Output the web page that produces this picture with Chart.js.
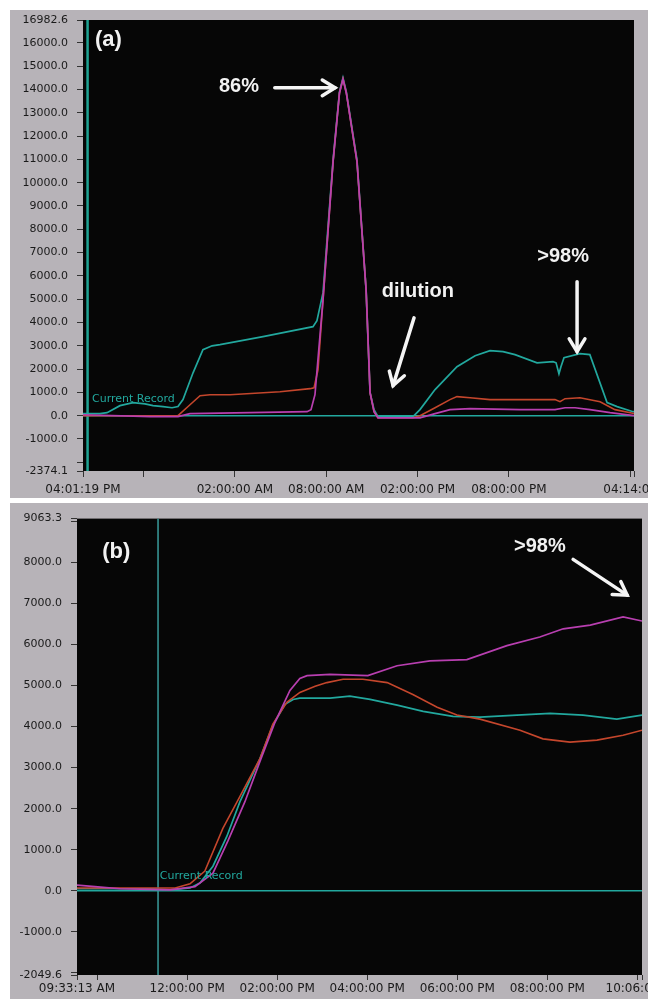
<!DOCTYPE html>
<html>
<head>
<meta charset="utf-8">
<script src="https://cdn.jsdelivr.net/npm/chart.js@4/dist/chart.umd.min.js"></script>
<style>
  html, body { margin: 0; padding: 0; background: #fff; overflow: hidden; }
  body { width: 648px; height: 999px; position: relative; }
  .panel { position: absolute; left: 10px; width: 638px; background: #b7b3b8; }
  #panelA { top: 10px; height: 488px; }
  #panelB { top: 503px; height: 496px; }
  .wrap { position: absolute; left: 0; }
  #wrapA { top: 0; width: 690px; height: 500px; }
  #wrapB { top: 503px; width: 700px; height: 496px; }
</style>
</head>
<body>
<div class="panel" id="panelA"></div>
<div class="panel" id="panelB"></div>
<div class="wrap" id="wrapA"><canvas id="chartA"></canvas></div>
<div class="wrap" id="wrapB"><canvas id="chartB"></canvas></div>
<script>
// ---- panel (a): hours since 04:01:19 PM ----
const aTealHours = [0, 1.12, 1.58, 2.43, 3.29, 4.07, 4.6, 5.26, 5.85, 6.24, 6.57, 7.23, 7.88, 8.48, 9.0, 11.83, 15.11, 15.37, 15.77, 16.43, 16.85, 17.08, 17.3, 18.0, 18.6, 18.86, 19.12, 19.38, 21.68, 22.14, 23.13, 24.57, 25.76, 26.74, 27.6, 28.38, 29.83, 30.88, 31.08, 31.27, 31.4, 31.6, 32.65, 33.3, 34.43, 35.09, 36.14, 36.2];
const aTealValues = [90, 90, 130, 430, 560, 510, 430, 390, 340, 390, 690, 1840, 2830, 3000, 3050, 3390, 3820, 4080, 5280, 10980, 13900, 14500, 13900, 10980, 5400, 990, 260, -40, -40, 260, 1120, 2100, 2570, 2790, 2750, 2620, 2270, 2320, 2270, 1800, 2100, 2490, 2660, 2620, 560, 390, 170, 170];

const aRedHours = [0, 6.24, 7.03, 7.69, 8.34, 9.66, 12.94, 14.92, 15.18, 15.44, 15.77, 16.43, 16.85, 17.08, 17.3, 18.0, 18.6, 18.86, 19.12, 19.38, 21.68, 22.14, 23.13, 24.11, 24.57, 25.43, 26.74, 28.71, 31.01, 31.34, 31.67, 32.65, 33.97, 34.95, 36.2];
const aRedValues = [0, 0, 470, 860, 900, 900, 1030, 1160, 1200, 1970, 4980, 10900, 13850, 14450, 13850, 10900, 5400, 990, 170, -90, -90, 0, 340, 690, 820, 770, 690, 690, 690, 600, 730, 770, 600, 260, 90];

const aMagHours = [0, 4.4, 6.24, 7.03, 10.97, 14.72, 14.98, 15.24, 15.77, 16.43, 16.85, 17.08, 17.3, 18.0, 18.6, 18.86, 19.12, 19.38, 22.14, 23.13, 24.11, 25.43, 28.71, 31.01, 31.67, 32.33, 33.31, 34.63, 36.2];
const aMagValues = [40, -40, -40, 90, 130, 170, 260, 900, 4980, 10900, 13850, 14450, 13850, 10900, 5400, 990, 170, -90, -90, 90, 260, 300, 260, 260, 340, 340, 260, 130, 0];

const aTickHours = [0, 3.978, 9.978, 15.978, 21.978, 27.978, 35.978, 36.2];
const aTickLabels = ['04:01:19 PM', '', '02:00:00 AM', '08:00:00 AM', '02:00:00 PM', '08:00:00 PM', '', '04:14:0    '];
const aYTicks = [-2374.1, -2000, -1000, 0, 1000, 2000, 3000, 4000, 5000, 6000, 7000, 8000, 9000, 10000, 11000, 12000, 13000, 14000, 15000, 16000, 16982.6];
const aCursorHour = 0.3;

// ---- panel (b): hours since 09:33:13 AM ----
const bTealHours = [0, 1.62, 2.07, 2.51, 2.73, 3.02, 3.33, 3.62, 4.06, 4.35, 4.62, 4.8, 4.95, 5.62, 6.06, 6.51, 7.11, 7.69, 8.35, 8.95, 9.77, 10.51, 11.24, 11.99, 12.55];
const bTealValues = [50, 50, 25, 70, 190, 600, 1330, 2170, 3210, 4030, 4540, 4660, 4690, 4690, 4740, 4660, 4520, 4370, 4250, 4230, 4280, 4320, 4280, 4180, 4280];

const bRedHours = [0, 1.62, 2.18, 2.51, 2.84, 3.24, 3.62, 4.06, 4.35, 4.66, 4.95, 5.29, 5.55, 5.91, 6.35, 6.89, 7.46, 8.0, 8.44, 8.95, 9.84, 10.35, 10.95, 11.55, 12.13, 12.55];
const bRedValues = [70, 70, 70, 170, 480, 1520, 2300, 3210, 4060, 4590, 4830, 4980, 5070, 5150, 5150, 5070, 4780, 4470, 4280, 4180, 3910, 3700, 3620, 3670, 3790, 3910];

const bMagHours = [0, 0.4, 0.96, 2.07, 2.62, 3.02, 3.35, 3.73, 4.06, 4.4, 4.73, 4.95, 5.11, 5.62, 6.46, 7.11, 7.84, 8.66, 9.55, 10.28, 10.8, 11.4, 12.13, 12.55];
const bMagValues = [140, 100, 50, 25, 100, 430, 1210, 2170, 3140, 4110, 4880, 5170, 5240, 5270, 5240, 5480, 5600, 5630, 5970, 6180, 6380, 6470, 6670, 6570];

const bTickHours = [0, 0.447, 2.447, 4.447, 6.447, 8.447, 10.447, 12.447, 12.55];
const bTickLabels = ['09:33:13 AM', '', '12:00:00 PM', '02:00:00 PM', '04:00:00 PM', '06:00:00 PM', '08:00:00 PM', '', '10:06:0       '];
const bYTicks = [-2049.6, -2000, -1000, 0, 1000, 2000, 3000, 4000, 5000, 6000, 7000, 8000, 9000, 9063.3];
const bCursorHour = 1.8;

const TEAL = '#22a89e';
const RED = '#c4462c';
const MAGENTA = '#b83fb0';

Chart.defaults.font.family = 'DejaVu Sans';
Chart.defaults.animation = false;

function pts(hours, values) {
  return hours.map((h, i) => ({ x: h, y: values[i] }));
}

function drawArrow(ctx, x1, y1, x2, y2) {
  const ang = Math.atan2(y2 - y1, x2 - x1);
  ctx.beginPath();
  ctx.moveTo(x1, y1);
  ctx.lineTo(x2, y2);
  ctx.stroke();
  ctx.beginPath();
  ctx.moveTo(x2 - 15 * Math.cos(ang - 0.55), y2 - 15 * Math.sin(ang - 0.55));
  ctx.lineTo(x2, y2);
  ctx.lineTo(x2 - 15 * Math.cos(ang + 0.55), y2 - 15 * Math.sin(ang + 0.55));
  ctx.stroke();
}

// black plot area plus the white notes, placed in data coordinates
const scopePlugin = {
  id: 'scope',
  beforeDraw(chart) {
    const a = chart.chartArea;
    chart.ctx.save();
    chart.ctx.fillStyle = '#060606';
    chart.ctx.fillRect(a.left, a.top, a.right - a.left, a.bottom - a.top);
    chart.ctx.restore();
  },
  afterDatasetsDraw(chart, args, opts) {
    const ctx = chart.ctx;
    const xs = chart.scales.x, ys = chart.scales.y;
    ctx.save();
    (opts.notes || []).forEach(n => {
      ctx.font = n.font;
      ctx.fillStyle = n.color || '#f2f2f2';
      ctx.textAlign = n.align || 'center';
      ctx.textBaseline = 'middle';
      ctx.fillText(n.text, xs.getPixelForValue(n.h), ys.getPixelForValue(n.v));
    });
    ctx.strokeStyle = '#f4f4f4';
    ctx.lineWidth = 3.5;
    ctx.lineCap = 'round';
    (opts.arrows || []).forEach(r => {
      drawArrow(ctx, xs.getPixelForValue(r[0]), ys.getPixelForValue(r[1]),
        xs.getPixelForValue(r[2]), ys.getPixelForValue(r[3]));
    });
    ctx.restore();
  }
};

function makePanel(id, p) {
  const line = (data, color, width, order) => ({
    data: data, borderColor: color, borderWidth: width, pointRadius: 0,
    tension: 0, fill: false, order: order
  });
  return new Chart(document.getElementById(id), {
    type: 'line',
    data: {
      datasets: [
        line(pts(p.magH, p.magV), MAGENTA, 1.7, 0),
        line(pts(p.redH, p.redV), RED, 1.6, 1),
        line(pts(p.tealH, p.tealV), TEAL, 1.7, 2),
        line([{ x: 0, y: 0 }, { x: p.xMax, y: 0 }], TEAL, 1.5, 3),
        line([{ x: p.cursor, y: p.yTicks[0] }, { x: p.cursor, y: p.yTicks[p.yTicks.length - 1] }], p.cursorColor, p.cursorWidth, 4)
      ]
    },
    options: {
      responsive: true,
      maintainAspectRatio: false,
      layout: { padding: p.padding },
      plugins: {
        legend: { display: false },
        tooltip: { enabled: false },
        scope: { notes: p.notes, arrows: p.arrows }
      },
      scales: {
        x: {
          type: 'linear',
          min: 0,
          max: p.xMax,
          afterBuildTicks: s => { s.ticks = p.xTicks.map(v => ({ value: v })); },
          afterFit: s => { s.height = p.xHeight; },
          ticks: {
            autoSkip: false, maxRotation: 0, minRotation: 0,
            padding: p.xPad, color: '#1a1a1a', font: { size: 12 },
            callback: (v, i) => p.xLabels[i]
          },
          grid: { drawOnChartArea: false, drawTicks: true, tickLength: p.xTickLen, color: '#333' },
          border: { display: false }
        },
        y: {
          type: 'linear',
          min: p.yTicks[0],
          max: p.yTicks[p.yTicks.length - 1],
          afterBuildTicks: s => { s.ticks = p.yTicks.map(v => ({ value: v })); },
          afterFit: s => { s.width = p.yWidth; },
          ticks: {
            autoSkip: false, padding: 9, color: '#1a1a1a', font: { size: 11 },
            callback: v => (p.yHidden.includes(v) ? '' : v.toFixed(1))
          },
          grid: { drawOnChartArea: false, drawTicks: true, tickLength: 6, color: '#333' },
          border: { display: false }
        }
      }
    },
    plugins: [scopePlugin]
  });
}

makePanel('chartA', {
  tealH: aTealHours, tealV: aTealValues,
  redH: aRedHours, redV: aRedValues,
  magH: aMagHours, magV: aMagValues,
  xMax: 36.2, xTicks: aTickHours, xLabels: aTickLabels,
  yTicks: aYTicks, yHidden: [-2000],
  cursor: aCursorHour, cursorColor: '#1fa393', cursorWidth: 2.5,
  padding: { left: 10, right: 56, top: 20, bottom: 1 },
  yWidth: 73, xHeight: 28, xPad: 6, xTickLen: 6,
  notes: [
    { text: '(a)', h: 0.79, v: 16130, font: 'bold 22px "Liberation Sans"', align: 'left' },
    { text: '86%', h: 10.25, v: 14110, font: 'bold 20px "Liberation Sans"' },
    { text: 'dilution', h: 22.0, v: 5320, font: 'bold 20px "Liberation Sans"' },
    { text: '>98%', h: 31.54, v: 6820, font: 'bold 20px "Liberation Sans"' },
    { text: 'Current Record', h: 0.59, v: 690, font: '11px "DejaVu Sans"', align: 'left', color: TEAL }
  ],
  arrows: [[12.6, 14070, 16.56, 14070], [21.75, 4200, 20.37, 1290], [32.46, 5750, 32.46, 2750]]
});

makePanel('chartB', {
  tealH: bTealHours, tealV: bTealValues,
  redH: bRedHours, redV: bRedValues,
  magH: bMagHours, magV: bMagValues,
  xMax: 12.55, xTicks: bTickHours, xLabels: bTickLabels,
  yTicks: bYTicks, yHidden: [-2000, 9000],
  cursor: bCursorHour, cursorColor: '#3a9c9c', cursorWidth: 1.5,
  padding: { left: 10, right: 58, top: 12, bottom: 0 },
  yWidth: 67, xHeight: 24, xPad: 2, xTickLen: 5,
  notes: [
    { text: '(b)', h: 0.56, v: 8260, font: 'bold 22px "Liberation Sans"', align: 'left' },
    { text: '>98%', h: 10.28, v: 8380, font: 'bold 20px "Liberation Sans"' },
    { text: 'Current Record', h: 1.84, v: 360, font: '11px "DejaVu Sans"', align: 'left', color: TEAL }
  ],
  arrows: [[11.02, 8070, 12.22, 7200]]
});
</script>
</body>
</html>
